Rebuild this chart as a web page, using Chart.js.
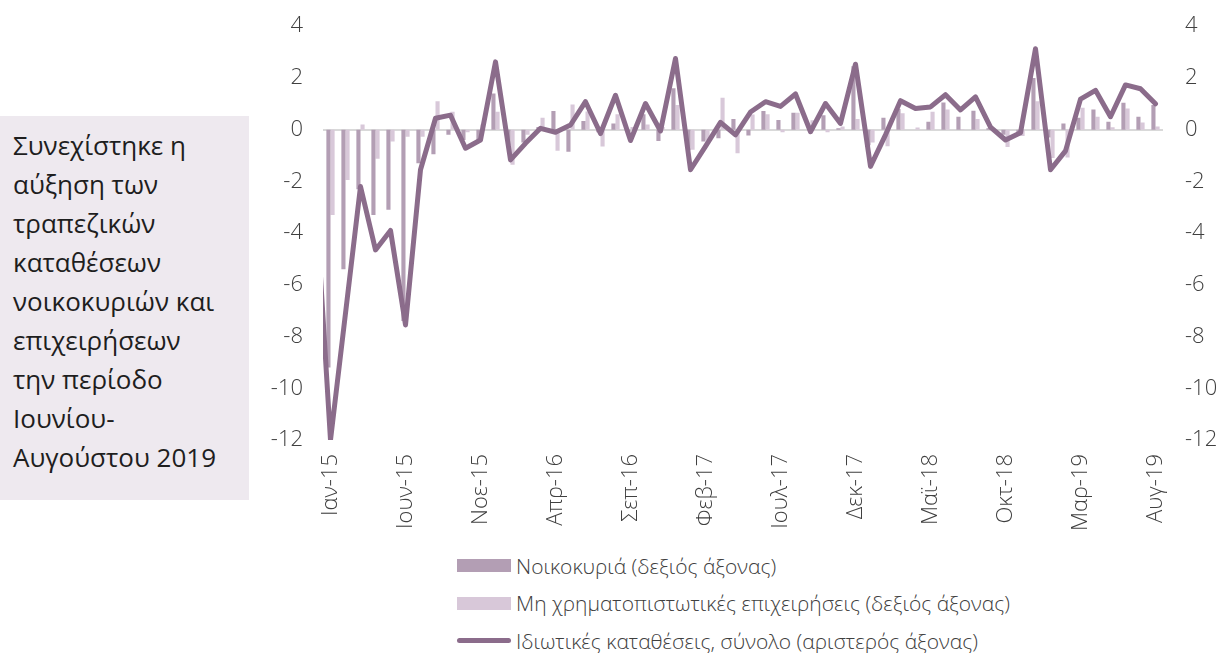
<html>
<head>
<meta charset="UTF-8">
<script src="https://cdn.jsdelivr.net/npm/chart.js"></script>
<style>
  body { margin: 0; width: 1218px; height: 653px; background: #fff; position: relative; overflow: hidden; font-family: 'Open Sans', sans-serif; }
  #note { position: absolute; left: 0; top: 116px; width: 236px; height: 374px; padding: 10px 0 0 13px; background: #eee9ef; color: #1e1e1e; font-size: 26px; line-height: 39px; }
  #wrap { position: absolute; left: 250px; top: -9px; width: 968px; height: 539px; }
  #legend { position: absolute; left: 457px; top: 547px; color: #404040; font-size: 21px; font-weight: 300; }
  .row { height: 37.5px; display: flex; align-items: center; }
  .sw { width: 54px; height: 13px; margin-right: 5px; }
  .ln { width: 54px; height: 5px; border-radius: 3px; margin-right: 5px; }
</style>
</head>
<body>
<div id="note">Συνεχίστηκε η<br>αύξηση των<br>τραπεζικών<br>καταθέσεων<br>νοικοκυριών και<br>επιχειρήσεων<br>την περίοδο<br>Ιουνίου-<br>Αυγούστου 2019</div>
<div id="wrap"><canvas id="chart"></canvas></div>
<div id="legend"></div>
<script>
// monthly, Dec-14 (only the edge of the line shows) to Aug-19
const months = ['Ιαν', 'Φεβ', 'Μαρ', 'Απρ', 'Μαϊ', 'Ιουν', 'Ιουλ', 'Αυγ', 'Σεπ', 'Οκτ', 'Νοε', 'Δεκ'];
const labels = ['Δεκ-14'];
for (let y = 15; y <= 19; y++) {
  for (let m = 0; m < 12; m++) {
    if (y === 19 && m > 7) break;
    labels.push(months[m] + '-' + y);
  }
}

const households = [null,
  -9.2, -5.4, -2.3, -3.3, -3.1, -7.4, -1.3, -0.95, -0.2, -0.4, -0.45, 1.4,
  -0.6, -0.5, 0.1, 0.72, -0.85, 0.33, -0.1, 0.24, -0.2, 0.6, -0.44, 1.6,
  -0.8, -0.46, -0.33, 0.41, -0.23, 0.72, 0.37, 0.65, 0.0, 0.56, 0.05, 2.45,
  -0.6, 0.46, 0.8, 0.0, 0.31, 1.05, 0.5, 0.73, 0.05, -0.2, -0.1, 2.0,
  -0.3, 0.24, 0.46, 0.78, 0.31, 1.04, 0.5, 0.95];

const nonFinancial = [null,
  -3.3, -1.95, 0.2, -1.13, -0.46, -0.27, -0.27, 1.1, 0.69, -0.1, 0.2, 0.69,
  -1.36, -0.2, 0.46, -0.82, 0.97, 0.7, -0.65, 0.6, 0.1, 0.2, 0.1, 0.95,
  -0.78, -0.4, 1.23, -0.91, 0.59, 0.6, -0.1, 0.65, 0.36, -0.1, 0.12, 0.41,
  -0.5, -0.64, 0.63, 0.08, 0.69, 0.78, 0.02, 0.41, 0.0, -0.67, -0.25, 1.1,
  -1.1, -1.08, 0.85, 0.5, 0.09, 0.82, 0.28, 0.12];

const privateTotal = [-2.5,
  -12.0, -7.1, -2.2, -4.65, -3.9, -7.55, -1.55, 0.44, 0.56, -0.72, -0.4, 2.62,
  -1.17, -0.53, 0.05, -0.1, 0.18, 1.08, -0.15, 1.33, -0.42, 1.01, -0.05, 2.75,
  -1.55, -0.65, 0.28, -0.2, 0.68, 1.08, 0.9, 1.38, -0.08, 1.01, 0.24, 2.53,
  -1.42, -0.2, 1.12, 0.82, 0.88, 1.35, 0.76, 1.27, 0.1, -0.4, -0.12, 3.13,
  -1.55, -0.82, 1.18, 1.52, 0.5, 1.73, 1.58, 1.0];

const names = ['Νοικοκυριά (δεξιός άξονας)', 'Μη χρηματοπιστωτικές επιχειρήσεις (δεξιός άξονας)', 'Ιδιωτικές καταθέσεις, σύνολο (αριστερός άξονας)'];
const colors = ['#b39eb4', '#d8c8d9', '#8b6c8b'];
const yMin = -12, yMax = 4, yStep = 2;

const tickFont = { family: 'Open Sans', size: 22, weight: 300 };

new Chart(document.getElementById('chart'), {
  type: 'bar',
  data: {
    labels: labels,
    datasets: [
      { type: 'line', label: names[2], data: privateTotal, yAxisID: 'y', borderColor: colors[2], borderWidth: 5,
        pointRadius: 0, tension: 0, borderJoinStyle: 'round', borderCapStyle: 'round', order: 0, clip: 0 },
      { label: names[0], data: households, yAxisID: 'y2', backgroundColor: colors[0], order: 1,
        barPercentage: 1, categoryPercentage: 0.55 },
      { label: names[1], data: nonFinancial, yAxisID: 'y2', backgroundColor: colors[1], order: 2,
        barPercentage: 1, categoryPercentage: 0.55 }
    ]
  },
  options: {
    animation: false,
    responsive: true,
    maintainAspectRatio: false,
    layout: { padding: { top: 8, left: 0, right: 0, bottom: 0 } },
    plugins: { legend: { display: false }, tooltip: { enabled: false } },
    scales: {
      x: {
        min: 'Ιαν-15',
        grid: { display: false },
        border: { display: false },
        ticks: {
          autoSkip: false, maxRotation: 90, minRotation: 90, padding: 6,
          color: '#404040', font: tickFont,
          callback: v => ((v - 1) % 5 === 0 ? labels[v] : '')
        },
        afterFit: s => { s.height = 90; }
      },
      y: {
        position: 'left', min: yMin, max: yMax,
        border: { display: false },
        grid: { drawTicks: false, lineWidth: 2, color: c => c.tick.value === 0 ? '#d9d9d9' : 'rgba(0,0,0,0)' },
        ticks: { stepSize: yStep, padding: 20, color: '#404040', font: tickFont },
        afterFit: s => { s.width = 73; }
      },
      y2: {
        position: 'right', min: yMin, max: yMax,
        border: { display: false },
        grid: { display: false, drawTicks: false },
        ticks: { stepSize: yStep, padding: 22, color: '#404040', font: tickFont },
        afterFit: s => { s.width = 55; }
      }
    }
  }
});

// legend
const leg = document.getElementById('legend');
names.forEach((n, i) => {
  const row = document.createElement('div');
  row.className = 'row';
  const sw = document.createElement('span');
  sw.className = i < 2 ? 'sw' : 'ln';
  sw.style.background = colors[i];
  row.appendChild(sw);
  row.appendChild(document.createTextNode(n));
  leg.appendChild(row);
});
</script>
</body>
</html>
